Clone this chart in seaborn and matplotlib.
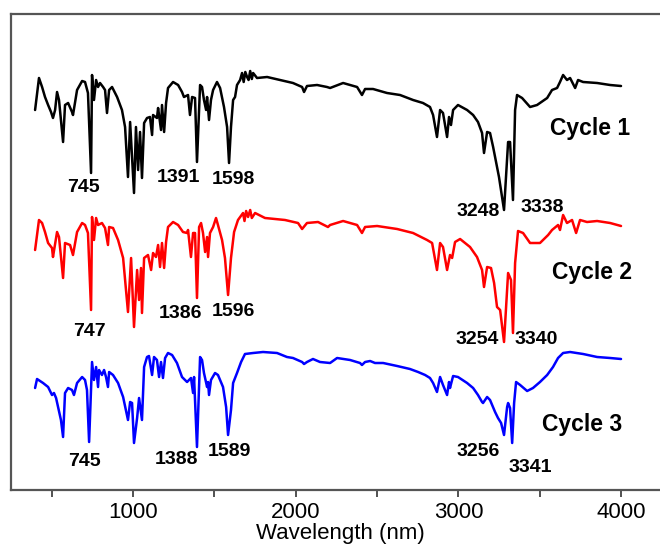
import numpy as np
import pandas as pd
import matplotlib
matplotlib.use("Agg")
import matplotlib.pyplot as plt
import seaborn as sns
from matplotlib.ticker import MultipleLocator

# wavelength (nm) and intensity (a.u., curves already offset)
c1_x = [398, 422, 441, 459, 478, 496, 508, 521, 533, 545, 570, 582, 601, 625, 631, 656, 687, 705, 723, 742,
        748, 760, 773, 785, 797, 816, 828, 840, 853, 871, 902, 932, 951, 969, 982, 1006, 1018, 1031, 1043, 1055,
        1068, 1086, 1104, 1117, 1123, 1147, 1154, 1172, 1178, 1191, 1203, 1215, 1246, 1277, 1301, 1313, 1338, 1350,
        1363, 1381, 1393, 1412, 1424, 1436, 1449, 1455, 1467, 1479, 1492, 1516, 1535, 1559, 1578, 1590, 1602, 1615,
        1627, 1639, 1658, 1670, 1680, 1690, 1701, 1710, 1720, 1730, 1738, 1762, 1824, 1903, 1983, 2039, 2051, 2069,
        2131, 2192, 2211, 2291, 2377, 2407, 2426, 2475, 2561, 2641, 2721, 2782, 2825, 2844, 2868, 2887, 2905, 2930,
        2942, 2954, 2967, 2997, 3053, 3090, 3120, 3145, 3157, 3176, 3194, 3213, 3237, 3249, 3280, 3305, 3317, 3335,
        3348, 3360, 3391, 3440, 3483, 3545, 3575, 3606, 3624, 3643, 3667, 3686, 3717, 3735, 3766, 3852, 3932, 3999]
c1_y = [39.0, 42.2, 41.3, 40.3, 39.5, 38.8, 38.2, 39.0, 40.8, 40.0, 35.8, 39.5, 39.7, 38.8, 38.5, 41.0, 41.9, 41.8,
        40.7, 32.7, 42.5, 40.0, 42.0, 41.3, 41.7, 41.3, 41.0, 38.7, 41.0, 41.3, 40.3, 39.0, 37.3, 32.3, 37.8, 30.7,
        37.3, 33.0, 36.8, 32.2, 37.7, 38.2, 38.3, 36.5, 38.5, 38.2, 39.2, 37.0, 39.5, 36.8, 39.7, 41.2, 41.8, 41.5,
        40.8, 40.3, 40.5, 38.5, 40.3, 40.2, 33.8, 41.5, 41.3, 40.0, 39.0, 40.3, 38.0, 40.0, 41.0, 41.8, 41.2, 39.3,
        37.3, 33.7, 37.3, 40.0, 40.3, 41.5, 42.0, 42.7, 41.8, 42.8, 42.3, 42.0, 42.9, 42.1, 42.7, 42.2, 42.3, 42.0,
        41.7, 41.3, 40.8, 41.4, 41.5, 41.3, 41.2, 41.7, 41.3, 40.5, 41.1, 41.1, 40.7, 40.5, 40.0, 39.7, 39.3, 38.5,
        36.3, 39.0, 38.7, 36.3, 38.3, 37.5, 39.0, 39.5, 39.0, 38.5, 37.8, 36.7, 34.7, 36.8, 36.7, 35.3, 33.3, 32.3,
        29.0, 35.8, 35.8, 30.0, 39.0, 40.5, 40.2, 39.3, 39.5, 40.2, 41.0, 41.2, 41.8, 42.5, 42.0, 42.2, 41.2, 42.0,
        41.8, 41.7, 41.5, 41.4]

c2_x = [398, 422, 441, 459, 478, 502, 508, 533, 545, 570, 582, 613, 631, 656, 687, 705, 723, 742, 748, 760, 773,
        785, 809, 828, 846, 853, 877, 908, 939, 969, 988, 1006, 1025, 1037, 1049, 1055, 1068, 1092, 1111, 1123, 1141,
        1154, 1166, 1178, 1191, 1203, 1215, 1246, 1277, 1307, 1332, 1338, 1356, 1369, 1381, 1393, 1406, 1418, 1430,
        1443, 1455, 1461, 1473, 1492, 1510, 1522, 1547, 1565, 1584, 1602, 1621, 1645, 1676, 1685, 1695, 1707, 1720,
        1730, 1750, 1811, 1934, 2014, 2039, 2069, 2137, 2198, 2211, 2291, 2377, 2407, 2426, 2500, 2623, 2721, 2807,
        2838, 2868, 2887, 2905, 2930, 2948, 2961, 2979, 3010, 3071, 3114, 3145, 3157, 3176, 3200, 3219, 3237, 3256,
        3280, 3305, 3323, 3335, 3348, 3366, 3397, 3440, 3501, 3551, 3575, 3612, 3624, 3643, 3667, 3698, 3723, 3747,
        3790, 3852, 3932, 3999]
c2_y = [25.0, 28.0, 27.7, 26.8, 25.7, 25.2, 24.3, 26.8, 26.3, 22.2, 25.7, 25.5, 24.5, 26.8, 27.7, 27.5, 26.7, 19.0,
        28.3, 26.0, 28.2, 27.5, 27.7, 27.2, 25.5, 27.3, 27.2, 26.0, 24.2, 18.8, 24.2, 17.3, 23.0, 20.0, 23.2, 18.7,
        24.2, 24.5, 23.0, 24.7, 24.3, 25.5, 23.3, 25.7, 23.2, 25.8, 27.3, 27.8, 27.5, 26.8, 26.7, 27.0, 24.3, 26.7,
        26.7, 20.2, 27.3, 27.7, 26.7, 24.8, 26.3, 24.3, 26.7, 27.3, 28.2, 27.5, 26.0, 24.2, 20.5, 24.2, 26.8, 28.0,
        28.7, 27.9, 28.9, 28.3, 29.0, 28.2, 28.7, 28.2, 28.0, 27.7, 27.1, 27.7, 27.8, 27.3, 27.5, 27.9, 27.5, 26.7,
        27.3, 27.4, 27.1, 26.7, 26.0, 25.7, 23.0, 25.7, 25.3, 23.0, 24.5, 24.2, 25.8, 26.1, 25.3, 24.3, 23.0, 21.3,
        23.3, 23.2, 21.7, 19.3, 19.0, 15.8, 22.7, 22.0, 16.7, 23.7, 26.9, 26.7, 25.7, 25.7, 26.5, 27.0, 27.5, 27.0,
        28.5, 27.7, 28.0, 26.7, 28.0, 27.8, 27.9, 27.7, 27.4]

c3_x = [398, 410, 428, 447, 478, 502, 514, 527, 539, 557, 570, 582, 601, 625, 637, 656, 687, 705, 717, 730, 748,
        760, 773, 785, 791, 809, 822, 834, 846, 853, 877, 908, 939, 969, 982, 994, 1006, 1025, 1037, 1055, 1068,
        1086, 1098, 1117, 1129, 1147, 1160, 1172, 1184, 1197, 1215, 1240, 1270, 1301, 1332, 1356, 1369, 1375, 1393,
        1412, 1424, 1436, 1455, 1461, 1467, 1479, 1504, 1522, 1553, 1572, 1584, 1602, 1615, 1639, 1664, 1688, 1738,
        1799, 1885, 1946, 1983, 2039, 2051, 2069, 2106, 2149, 2211, 2254, 2334, 2395, 2407, 2426, 2457, 2487, 2537,
        2623, 2702, 2752, 2795, 2825, 2844, 2868, 2887, 2905, 2930, 2942, 2948, 2967, 2997, 3053, 3090, 3120, 3145,
        3151, 3176, 3194, 3225, 3243, 3262, 3280, 3299, 3305, 3317, 3330, 3342, 3354, 3379, 3422, 3458, 3501, 3545,
        3581, 3612, 3643, 3686, 3766, 3852, 3932, 3999]
c3_y = [11.2, 12.1, 11.9, 11.7, 11.3, 10.5, 10.7, 10.2, 9.3, 8.0, 6.3, 10.7, 11.2, 11.0, 10.5, 11.7, 12.3, 12.0,
        11.0, 5.8, 13.8, 12.0, 13.3, 11.3, 13.0, 12.5, 13.0, 12.3, 11.3, 12.8, 12.5, 11.7, 10.3, 8.0, 9.8, 9.7, 5.7,
        8.2, 10.2, 8.0, 13.3, 14.3, 14.4, 12.5, 14.3, 14.0, 12.3, 13.8, 12.2, 14.2, 14.7, 14.5, 13.7, 12.3, 11.8,
        12.2, 10.7, 12.3, 5.3, 14.3, 14.0, 12.7, 11.3, 11.8, 10.5, 12.0, 12.7, 12.5, 11.3, 9.3, 6.5, 9.0, 11.7, 12.7,
        13.8, 14.6, 14.7, 14.8, 14.7, 14.3, 14.2, 13.8, 13.6, 13.8, 14.1, 13.8, 13.7, 14.2, 14.0, 13.7, 13.5, 13.8,
        13.9, 13.7, 13.7, 13.4, 13.1, 12.8, 12.5, 12.2, 11.7, 10.8, 12.3, 11.5, 10.5, 11.8, 11.2, 12.4, 12.3, 11.7,
        11.2, 10.5, 9.8, 9.7, 10.3, 10.0, 8.8, 8.2, 7.7, 6.5, 9.3, 9.7, 9.2, 5.7, 9.7, 11.8, 11.5, 10.9, 11.2, 11.8,
        12.5, 13.3, 14.2, 14.7, 14.8, 14.6, 14.3, 14.2, 14.1]

series_names = ["Cycle 1", "Cycle 2", "Cycle 3"]
series_colors = ["black", "#ff0000", "#0000ff"]

# peak labels: text, x, y
peak_text = ["745", "1391", "1598", "3248", "3338",
             "747", "1386", "1596", "3254", "3340",
             "745", "1388", "1589", "3256", "3341"]
peak_x = [693, 1277, 1615, 3120, 3514,
          730, 1289, 1615, 3114, 3477,
          699, 1270, 1590, 3120, 3440]
peak_y = [31.2, 32.3, 32.1, 28.8, 29.3,
          16.8, 18.6, 18.9, 16.0, 16.0,
          3.8, 4.0, 4.9, 4.8, 3.3]
name_x = [3809, 3821, 3760]
name_y = [37.2, 22.7, 7.6]

sns.set_theme(style="ticks")
plt.rcParams["font.family"] = ["Liberation Sans", "DejaVu Sans"]

fig = plt.figure(figsize=(6.6, 5.56), dpi=100)
ax = fig.add_axes([11 / 660, 66 / 556, 659 / 660, 476 / 556])

frames = []
for name, xs, ys in zip(series_names, [c1_x, c2_x, c3_x], [c1_y, c2_y, c3_y]):
    frames.append(pd.DataFrame({"wl": xs, "val": ys, "cycle": name}))
df = pd.concat(frames, ignore_index=True)

sns.lineplot(data=df, x="wl", y="val", hue="cycle", palette=series_colors,
             estimator=None, sort=False, lw=1.8, legend=False, ax=ax)
for line in ax.get_lines():
    line.set_solid_joinstyle("round")
    line.set_solid_capstyle("round")

for t, x, y in zip(peak_text, peak_x, peak_y):
    ax.text(x, y, t, ha="center", va="center", fontsize=14, fontweight="bold", color="black")
for t, x, y in zip(series_names, name_x, name_y):
    ax.text(x, y, t, ha="center", va="center", fontsize=16.5, fontweight="bold", color="black")

ax.set_xlim(250, 4300)
ax.set_ylim(1.0, 48.6)
ax.xaxis.set_major_locator(MultipleLocator(1000))
ax.xaxis.set_minor_locator(MultipleLocator(500))
ax.set_yticks([])
ax.set_ylabel("")
ax.set_xlabel("Wavelength (nm)", fontsize=16, labelpad=0, color="black")
ax.tick_params(axis="x", which="both", direction="out", length=5, width=1.2,
               color="#333333", labelsize=16, labelcolor="black", pad=4)
for s in ax.spines.values():
    s.set_color("#555555")
    s.set_linewidth(1.6)

fig.savefig("out.png", dpi=100)
